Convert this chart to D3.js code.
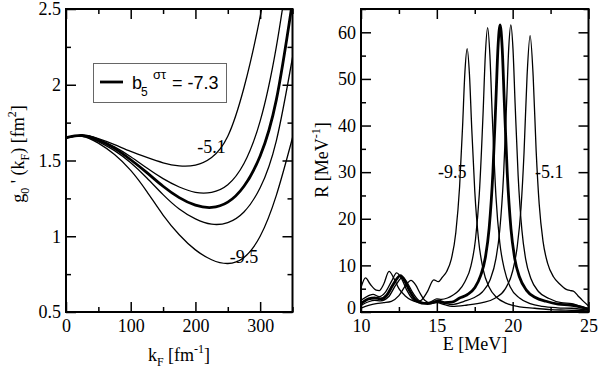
<!DOCTYPE html>
<html>
<head>
<meta charset="utf-8">
<script src="https://cdn.jsdelivr.net/npm/d3@7"></script>
<style>
  body { margin: 0; background: #fff; }
  svg { display: block; }
  svg text { font-family: "Liberation Serif", "Times New Roman", serif; }
  svg text.sans { font-family: "Liberation Sans", Arial, sans-serif; }
</style>
</head>
<body>
<div id="chart"></div>
<script>
// left panel: g0'(kF) for several b5 values
const kF = [0, 25, 50, 75, 100, 125, 150, 175, 200, 225, 250, 275, 300, 325, 350];
const gM51 = [1.65, 1.665, 1.645, 1.605, 1.56, 1.52, 1.485, 1.465, 1.47, 1.52, 1.66, 1.98, 2.45, 3.05, 3.7];
const gB   = [1.65, 1.665, 1.64, 1.59, 1.525, 1.45, 1.38, 1.325, 1.29, 1.29, 1.34, 1.48, 1.76, 2.25, 2.95];
const gM73 = [1.65, 1.665, 1.635, 1.58, 1.505, 1.42, 1.33, 1.255, 1.205, 1.19, 1.225, 1.33, 1.53, 1.9, 2.55];
const gD   = [1.65, 1.665, 1.625, 1.565, 1.485, 1.385, 1.275, 1.18, 1.115, 1.08, 1.09, 1.16, 1.32, 1.63, 2.18];
const gM95 = [1.65, 1.66, 1.615, 1.54, 1.435, 1.295, 1.14, 1.01, 0.91, 0.845, 0.82, 0.86, 1.0, 1.27, 1.65];

// right panel: strength R(E)
const e1 = [10, 10.3, 10.6, 11.0, 11.2, 11.5, 11.85, 12.2, 12.5, 12.9, 13.3, 13.7, 14.0, 14.35, 14.8, 15.1, 15.35, 15.65, 15.95, 16.25, 16.5, 16.7, 16.85, 17.0, 17.15, 17.3, 17.5, 17.75, 18.05, 18.45, 18.95, 19.55, 20.45, 21.45, 22.5, 23.5, 25];
const r1 = [5.2, 7.3, 6.0, 4.7, 4.6, 6.0, 8.7, 7.0, 5.0, 3.5, 2.6, 2.2, 2.6, 4.2, 6.9, 6.5, 7.4, 8.7, 11.3, 17, 26.8, 40, 51.4, 56.5, 51, 39.5, 26, 15.5, 9.2, 5.3, 3.1, 1.9, 1.1, 0.8, 0.5, 0.4, 0.25];
const e2 = [10, 10.5, 10.8, 11.2, 11.6, 12.0, 12.35, 12.7, 13.0, 13.4, 13.8, 14.2, 14.6, 15.0, 15.3, 15.7, 16.05, 16.45, 16.85, 17.25, 17.55, 17.8, 18.05, 18.2, 18.35, 18.5, 18.65, 18.9, 19.15, 19.45, 19.85, 20.45, 21.15, 21.95, 22.95, 23.9, 25];
const r2 = [2.5, 3.5, 3.8, 3.3, 4.2, 6.5, 8.4, 7.0, 4.8, 2.8, 2.0, 1.9, 2.2, 2.8, 2.7, 3.0, 3.6, 4.6, 6.5, 9.9, 15.6, 25.3, 42.7, 55.3, 61, 55, 42.5, 24.7, 14.9, 9.2, 5.3, 3.0, 1.8, 1.2, 0.9, 0.8, 0.4];
const e3 = [10, 10.5, 10.9, 11.3, 11.7, 12.1, 12.6, 12.9, 13.2, 13.6, 14.0, 14.4, 14.8, 15.1, 15.5, 16.0, 16.5, 17.0, 17.5, 17.9, 18.2, 18.45, 18.7, 18.9, 19.03, 19.17, 19.31, 19.44, 19.64, 19.89, 20.14, 20.45, 20.9, 21.5, 22.2, 23.0, 23.8, 24.3, 25];
const r3 = [1.8, 2.8, 3.0, 2.8, 3.6, 5.8, 7.8, 6.6, 4.6, 2.6, 1.9, 1.8, 2.1, 2.4, 2.0, 2.1, 3.0, 3.7, 5.2, 7.9, 11.7, 18, 30.1, 45.8, 56.6, 61.6, 56.6, 45.8, 30, 17.8, 11.4, 7.5, 4.7, 3.1, 2.3, 1.7, 1.5, 1.2, 0.6];
const e4 = [10, 10.5, 10.9, 11.3, 11.8, 12.3, 12.75, 13.1, 13.4, 13.8, 14.2, 14.6, 15.0, 15.4, 16.0, 16.8, 17.4, 18.0, 18.5, 18.9, 19.15, 19.4, 19.6, 19.74, 19.88, 20.02, 20.16, 20.36, 20.61, 20.86, 21.2, 21.7, 22.4, 23.2, 23.9, 24.4, 25];
const r4 = [1.4, 2.2, 2.5, 2.4, 3.2, 5.8, 7.5, 6.0, 4.2, 2.5, 1.9, 1.8, 2.2, 2.0, 1.6, 2.3, 3.0, 4.3, 6.8, 11.5, 17.6, 29.4, 44.9, 56.6, 61.6, 56.5, 44.8, 29.3, 17.5, 11.3, 7.2, 4.4, 2.9, 2.0, 1.8, 1.3, 0.7];
const e5 = [10, 10.5, 11.0, 11.5, 12.0, 12.5, 12.9, 13.3, 13.6, 13.9, 14.2, 14.6, 15.0, 15.5, 16.0, 17.0, 18.0, 18.8, 19.5, 20.0, 20.3, 20.55, 20.75, 20.95, 21.15, 21.35, 21.55, 21.75, 22.0, 22.3, 22.7, 23.1, 23.5, 23.8, 24.0, 24.3, 24.6, 25];
const r5 = [0.8, 1.4, 1.8, 2.0, 2.3, 3.5, 5.5, 6.8, 5.8, 4.0, 2.5, 1.9, 2.0, 1.6, 1.2, 1.5, 2.0, 2.9, 4.9, 8.8, 14, 22.3, 34.2, 50.7, 59.3, 50.7, 34.5, 23.1, 15.2, 10.5, 7.5, 6.0, 4.9, 4.6, 4.5, 3.5, 2.5, 1.3];

const W = 599, H = 369;

const svg = d3.select("#chart").append("svg")
    .attr("width", W)
    .attr("height", H);

const xL = d3.scaleLinear().domain([0, 350]).range([66, 292.5]);
const yL = d3.scaleLinear().domain([0.5, 2.5]).range([312, 9]);
const xR = d3.scaleLinear().domain([10, 25]).range([361, 588.5]);
const yR = d3.scaleLinear().domain([0, 65]).range([312, 9]);

// frame + inward ticks on all four sides
function frame(xs, ys, xMaj, xMin, yMaj, yMin, fy) {
  const [bx0, bx1] = xs.range(), [by0, by1] = ys.range();
  const g = svg.append("g");
  const style = sel => {
    sel.select(".domain").remove();
    sel.selectAll(".tick line").attr("stroke-width", 1.5);
    sel.attr("font-size", 18);
    sel.selectAll("text").attr("fill", "#000");
  };
  g.append("g").attr("transform", `translate(0,${by0})`)
    .call(d3.axisBottom(xs).tickValues(xMaj).tickSize(-10).tickPadding(7).tickFormat(d3.format("d"))).call(style);
  g.append("g").attr("transform", `translate(0,${by0})`)
    .call(d3.axisBottom(xs).tickValues(xMin).tickSize(-5).tickFormat("")).call(style);
  g.append("g").attr("transform", `translate(0,${by1})`)
    .call(d3.axisTop(xs).tickValues(xMaj).tickSize(-10).tickFormat("")).call(style);
  g.append("g").attr("transform", `translate(0,${by1})`)
    .call(d3.axisTop(xs).tickValues(xMin).tickSize(-5).tickFormat("")).call(style);
  const yl = g.append("g").attr("transform", `translate(${bx0},0)`)
    .call(d3.axisLeft(ys).tickValues(yMaj).tickSize(-10).tickPadding(5).tickFormat(fy)).call(style);
  g.append("g").attr("transform", `translate(${bx0},0)`)
    .call(d3.axisLeft(ys).tickValues(yMin).tickSize(-5).tickFormat("")).call(style);
  g.append("g").attr("transform", `translate(${bx1},0)`)
    .call(d3.axisRight(ys).tickValues(yMaj).tickSize(-10).tickFormat("")).call(style);
  g.append("g").attr("transform", `translate(${bx1},0)`)
    .call(d3.axisRight(ys).tickValues(yMin).tickSize(-5).tickFormat("")).call(style);
  g.append("rect")
    .attr("x", bx0).attr("y", by1)
    .attr("width", bx1 - bx0).attr("height", by0 - by1)
    .attr("fill", "none").attr("stroke", "#000").attr("stroke-width", 2);
  return yl;
}

function clip(id, xs, ys) {
  svg.append("clipPath").attr("id", id).append("rect")
    .attr("x", xs.range()[0]).attr("y", ys.range()[1])
    .attr("width", xs.range()[1] - xs.range()[0])
    .attr("height", ys.range()[0] - ys.range()[1]);
}
clip("clipL", xL, yL);
clip("clipR", xR, yR);

// ---- left panel curves
const lineL = d3.line().x((d, i) => xL(kF[i])).y(d => yL(d)).curve(d3.curveNatural);
const leftSeries = [
  {v: gM51, w: 1.3}, {v: gB, w: 1.3}, {v: gM73, w: 2.8}, {v: gD, w: 1.3}, {v: gM95, w: 1.3}
];
svg.append("g").attr("clip-path", "url(#clipL)")
  .selectAll("path").data(leftSeries).join("path")
    .attr("d", d => lineL(d.v))
    .attr("fill", "none").attr("stroke", "#000")
    .attr("stroke-width", d => d.w);

// ---- right panel curves
const lineR = d3.line().x(d => xR(d[0])).y(d => yR(d[1])).curve(d3.curveMonotoneX);
const rightSeries = [
  {e: e1, r: r1, w: 1.3}, {e: e2, r: r2, w: 1.3}, {e: e3, r: r3, w: 2.8},
  {e: e4, r: r4, w: 1.3}, {e: e5, r: r5, w: 1.3}
];
svg.append("g").attr("clip-path", "url(#clipR)")
  .selectAll("path").data(rightSeries).join("path")
    .attr("d", d => lineR(d.e.map((e, i) => [e, d.r[i]])))
    .attr("fill", "none").attr("stroke", "#000")
    .attr("stroke-width", d => d.w);

frame(xL, yL, [0, 100, 200, 300], [50, 150, 250, 350],
      [0.5, 1, 1.5, 2, 2.5], [0.75, 1.25, 1.75, 2.25], d => d3.format("")(d));
const yAxR = frame(xR, yR, [10, 15, 20, 25], [12.5, 17.5, 22.5],
      [0, 10, 20, 30, 40, 50, 60], [5, 15, 25, 35, 45, 55, 65], d3.format("d"));
// the "0" sits a little higher in the original
yAxR.selectAll(".tick").filter(d => d === 0).select("text").attr("dy", "0.1em");

// curve labels
const lab = (x, y, t) => svg.append("text").attr("x", x).attr("y", y)
  .attr("font-size", 18).text(t);
lab(xL(203), yL(1.55), "-5.1");
lab(xL(253), yL(0.823), "-9.5");
lab(xR(15.08), yR(28.8), "-9.5");
lab(xR(21.48), yR(28.8), "-5.1");

// legend
const leg = svg.append("g");
leg.append("rect").attr("x", 93.5).attr("y", 63.5).attr("width", 133).attr("height", 39)
  .attr("fill", "#fff").attr("stroke", "#666").attr("stroke-width", 1);
leg.append("line").attr("x1", 100).attr("x2", 123).attr("y1", 82).attr("y2", 82)
  .attr("stroke", "#000").attr("stroke-width", 2.8);
const lt = leg.append("text").attr("class", "sans")
  .attr("font-size", 18).attr("y", 89);
lt.append("tspan").attr("x", 132).text("b");
lt.append("tspan").attr("x", 141).attr("dy", 7).attr("font-size", 12).text("5");
lt.append("tspan").attr("x", 153).attr("dy", -17).attr("font-size", 13).text("στ");
lt.append("tspan").attr("x", 172).attr("dy", 10).text("= -7.3");

// axis titles
function title(x, y, rot, parts) {
  const t = svg.append("text")
    .attr("transform", `translate(${x},${y})` + (rot ? " rotate(-90)" : ""))
    .attr("text-anchor", "middle")
    .attr("font-size", 18);
  let cur = 0;
  parts.forEach(([s, shift]) => {
    t.append("tspan").attr("dy", shift - cur)
      .attr("font-size", shift === 0 ? 18 : 12).text(s);
    cur = shift;
  });
}
title(24, 154, true, [["g", 0], ["0", 5], [" ' (k", 0], ["F", 5], [") [fm", 0], ["2", -8], ["]", 0]]);
title(179, 361, false, [["k", 0], ["F", 5], [" [fm", 0], ["-1", -8], ["]", 0]]);
title(328, 160, true, [["R [MeV", 0], ["-1", -8], ["]", 0]]);
title(475, 350, false, [["E [MeV]", 0]]);
</script>
</body>
</html>
